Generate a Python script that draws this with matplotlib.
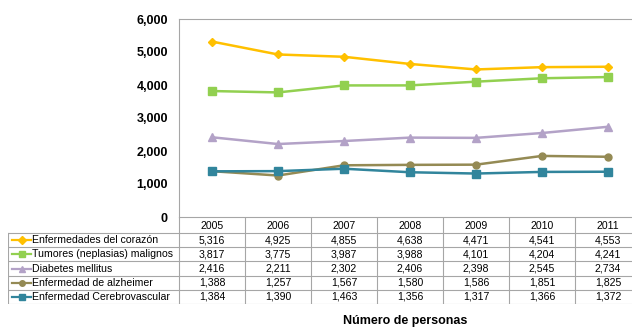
import matplotlib
matplotlib.use("Agg")
import matplotlib.pyplot as plt
from matplotlib.lines import Line2D

plt.rcParams['font.family'] = ['Liberation Sans', 'DejaVu Sans']

years = ["2005", "2006", "2007", "2008", "2009", "2010", "2011"]
series_names = [
    "Enfermedades del corazón",
    "Tumores (neplasias) malignos",
    "Diabetes mellitus",
    "Enfermedad de alzheimer",
    "Enfermedad Cerebrovascular",
]
corazon = [5316, 4925, 4855, 4638, 4471, 4541, 4553]
tumores = [3817, 3775, 3987, 3988, 4101, 4204, 4241]
diabetes = [2416, 2211, 2302, 2406, 2398, 2545, 2734]
alzheimer = [1388, 1257, 1567, 1580, 1586, 1851, 1825]
cerebro = [1384, 1390, 1463, 1356, 1317, 1366, 1372]
values = [corazon, tumores, diabetes, alzheimer, cerebro]

colors = ["#FFC000", "#92D050", "#B3A2C7", "#948A54", "#31859C"]
markers = ["D", "s", "^", "o", "s"]
msizes = [4, 5.5, 5.5, 5, 5.5]
border = "#A6A6A6"

W, H = 632, 328
fig = plt.figure(figsize=(W / 100, H / 100), dpi=100)

# pixel layout
x_left, x_right = 179, 641
y_top, y_axis = 19, 217
col_w = (x_right - x_left) / len(years)

ax = fig.add_axes([x_left / W, 1 - y_axis / H, (x_right - x_left) / W, (y_axis - y_top) / H])
x = range(len(years))
for vals, c, m, ms in zip(values, colors, markers, msizes):
    ax.plot(x, vals, color=c, marker=m, markersize=ms, linewidth=1.8, zorder=3)
ax.set_xlim(-0.5, len(years) - 0.5)
ax.set_ylim(0, 6000)
ax.set_yticks(range(0, 6001, 1000))
ax.set_yticklabels([f"{v:,}" for v in range(0, 6001, 1000)], fontsize=9, fontweight="bold")
ax.tick_params(axis="y", length=0, pad=8)
ax.set_xticks([])
for s in ["left", "top", "bottom"]:
    ax.spines[s].set_color(border)
ax.spines["right"].set_visible(False)

# data table below the plot
tab_left = 8
row_h = 14.2
hdr_h = 16
n = len(series_names)
tab_bottom = y_axis + hdr_h + n * row_h
tx = fig.add_axes([tab_left / W, 1 - tab_bottom / H, (x_right - tab_left) / W, (tab_bottom - y_axis) / H])
tx.set_xlim(tab_left, x_right)
tx.set_ylim(tab_bottom, y_axis)
tx.axis("off")

# vertical separators in header and body
for i in range(len(years) + 1):
    xx = x_left + i * col_w
    tx.plot([xx, xx], [y_axis, tab_bottom], color=border, lw=0.8)
tx.plot([tab_left, tab_left], [y_axis + hdr_h, tab_bottom], color=border, lw=0.8)
for r in range(n + 1):
    yy = y_axis + hdr_h + r * row_h
    tx.plot([tab_left, x_right], [yy, yy], color=border, lw=0.8)

fs = 7.6
for i, yr in enumerate(years):
    tx.text(x_left + (i + 0.5) * col_w, y_axis + hdr_h / 2 + 1, yr,
            ha="center", va="center", fontsize=fs)

for r, (name, vals, c, m) in enumerate(zip(series_names, values, colors, markers)):
    yc = y_axis + hdr_h + (r + 0.5) * row_h
    tx.add_line(Line2D([tab_left + 4, tab_left + 23], [yc, yc], color=c, lw=1.6))
    tx.plot(tab_left + 13.5, yc, marker=m, color=c, markersize=4)
    tx.text(tab_left + 24, yc, name, ha="left", va="center", fontsize=fs)
    for i, v in enumerate(vals):
        tx.text(x_left + (i + 0.5) * col_w, yc, f"{v:,}", ha="center", va="center", fontsize=fs)

fig.text((x_left + 632) / 2 / W, 1 - 321 / H, "Número de personas",
         ha="center", va="center", fontsize=9, fontweight="bold")

fig.savefig("out.png", dpi=100)
